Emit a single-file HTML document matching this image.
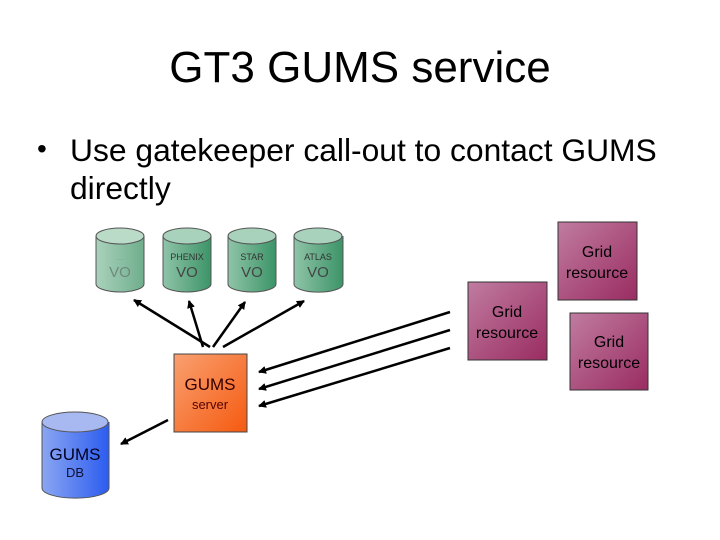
<!DOCTYPE html>
<html><head><style>
body{margin:0;width:720px;height:540px;background:#fff;position:relative;font-family:"Liberation Sans",sans-serif;overflow:hidden}
.t{position:absolute;white-space:nowrap}
</style></head><body>
<div class="t" style="left:0;width:720px;text-align:center;top:43px;font-size:44px;color:#000">GT3 GUMS service</div>
<div class="t" style="left:37px;top:133px;font-size:28px">•</div>
<div class="t" style="left:70px;top:132px;font-size:31.8px">Use gatekeeper call-out to contact GUMS</div>
<div class="t" style="left:70px;top:170px;font-size:31.8px">directly</div>
<svg width="720" height="540" style="position:absolute;left:0;top:0">
<defs>
<linearGradient id="g" x1="0" x2="1"><stop offset="0" stop-color="#8fc4a8"/><stop offset="1" stop-color="#3c9468"/></linearGradient>
<linearGradient id="g0" x1="0" x2="1"><stop offset="0" stop-color="#a9d2bb"/><stop offset="1" stop-color="#6fae8d"/></linearGradient>
<linearGradient id="o" x1="0" y1="0" x2="1" y2="1"><stop offset="0" stop-color="#f9a070"/><stop offset="1" stop-color="#f55a10"/></linearGradient>
<linearGradient id="p" x1="0" y1="0" x2="1" y2="1"><stop offset="0" stop-color="#c07ca0"/><stop offset="1" stop-color="#9a2c62"/></linearGradient>
<linearGradient id="b" x1="0" x2="1"><stop offset="0" stop-color="#8aa6f2"/><stop offset="1" stop-color="#2c5cf0"/></linearGradient>
<marker id="a" markerWidth="8" markerHeight="8" refX="7" refY="4" orient="auto" markerUnits="userSpaceOnUse"><path d="M0,0 L8,4 L0,8 z" fill="#000"/></marker>
</defs>
<g stroke="#555" stroke-width="1">
<path d="M96,236 V284 A24,8 0 0 0 144,284 V236" fill="url(#g0)"/><ellipse cx="120" cy="236" rx="24" ry="8" fill="#b9dbc8"/>
<path d="M163,236 V284 A24,8 0 0 0 211,284 V236" fill="url(#g)"/><ellipse cx="187" cy="236" rx="24" ry="8" fill="#a8d2bb"/>
<path d="M228,236 V284 A24,8 0 0 0 276,284 V236" fill="url(#g)"/><ellipse cx="252" cy="236" rx="24" ry="8" fill="#a8d2bb"/>
<path d="M294,236 V284 A24,8 0 0 0 343,284 V236" fill="url(#g)"/><ellipse cx="318" cy="236" rx="24" ry="8" fill="#a8d2bb"/>
<path d="M42,422 V488 A33,10 0 0 0 109,488 V422" fill="url(#b)"/><ellipse cx="75" cy="422" rx="33" ry="10" fill="#a8b8f0"/>
</g>
<rect x="174" y="354" width="73" height="78" fill="url(#o)" stroke="#444"/>
<rect x="468" y="282" width="79" height="78" fill="url(#p)" stroke="#333"/>
<rect x="558" y="222" width="79" height="78" fill="url(#p)" stroke="#333"/>
<rect x="570" y="313" width="78" height="77" fill="url(#p)" stroke="#333"/>
<g stroke="#000" stroke-width="2.5" marker-end="url(#a)">
<line x1="210" y1="347" x2="134" y2="300"/>
<line x1="203" y1="347" x2="189" y2="301"/>
<line x1="213" y1="347" x2="245" y2="302"/>
<line x1="223" y1="347" x2="304" y2="301"/>
<line x1="450" y1="312" x2="259" y2="372"/>
<line x1="450" y1="330" x2="259" y2="389"/>
<line x1="450" y1="348" x2="259" y2="406"/>
<line x1="168" y1="420" x2="121" y2="444"/>
</g>
<g font-family="Liberation Sans, sans-serif" text-anchor="middle">
<text x="120" y="260" font-size="9" fill="#7a9">...</text><text x="120" y="277" font-size="15" fill="#6f8a7c">VO</text>
<text x="187" y="260" font-size="9" fill="#333">PHENIX</text><text x="187" y="277" font-size="15" fill="#444">VO</text>
<text x="252" y="260" font-size="9" fill="#333">STAR</text><text x="252" y="277" font-size="15" fill="#444">VO</text>
<text x="318" y="260" font-size="9" fill="#333">ATLAS</text><text x="318" y="277" font-size="15" fill="#444">VO</text>
<text x="210" y="390" font-size="17" fill="#300">GUMS</text><text x="210" y="409" font-size="13" fill="#500">server</text>
<text x="75" y="460" font-size="17" fill="#002">GUMS</text><text x="75" y="477" font-size="13" fill="#113">DB</text>
<g font-size="16" fill="#000">
<text x="507" y="317">Grid</text><text x="507" y="338">resource</text>
<text x="597" y="257">Grid</text><text x="597" y="278">resource</text>
<text x="609" y="347">Grid</text><text x="609" y="368">resource</text>
</g>
</g>
</svg>
</body></html>
